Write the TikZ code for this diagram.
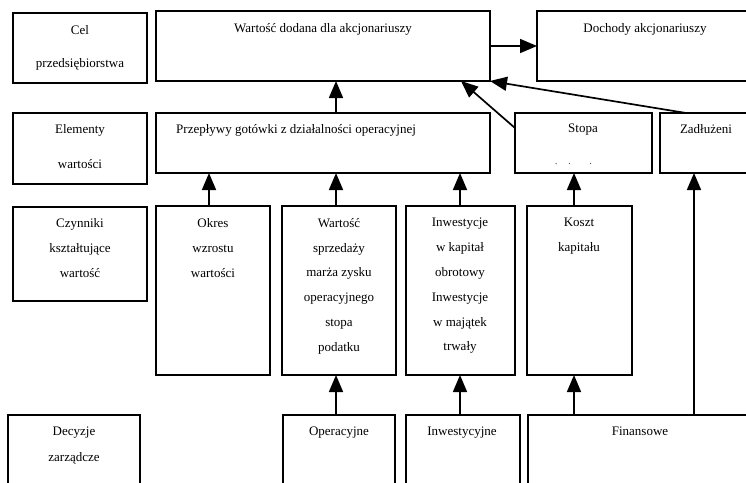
\documentclass[tikz,border=0pt]{standalone}
\usepackage{fontspec}
\setmainfont{Liberation Serif}
\usetikzlibrary{arrows.meta,calc}
\begin{document}
\begin{tikzpicture}[x=1pt,y=-1pt,
  box/.style={draw,line width=1.8pt,rectangle,anchor=north west,inner sep=0pt,outer sep=0pt},
  txt/.style={font=\fontsize{13}{25}\selectfont,align=center,inner sep=0pt,anchor=north},
  arr/.style={line width=1.7pt,-{Triangle[length=17pt,width=14pt]}}]
\useasboundingbox (0,0) rectangle (746,482);
\clip (0,0) rectangle (746,482);
% column coordinates
\coordinate (k1) at (209,0);
\coordinate (k2) at (336,0);
\coordinate (k3) at (460,0);
\coordinate (k4) at (574,0);
\coordinate (k5) at (694,0);
% row 1
\node[box,minimum width=134pt,minimum height=70pt] (cel) at (13,13) {};
\node[box,minimum width=334pt,minimum height=70pt] (wd) at (156,11) {};
\node[box,minimum width=263pt,minimum height=70pt] (doch) at (537,11) {};
\node[txt,font=\fontsize{13}{33}\selectfont] (celt) at (80,25) {Cel\\przedsiębiorstwa};
\node[txt] (wdt) at (323,23) {Wartość dodana dla akcjonariuszy};
\node[txt] (docht) at (645,23) {Dochody akcjonariuszy};
% row 2
\node[box,minimum width=134pt,minimum height=71pt] (el) at (13,113) {};
\node[box,minimum width=334pt,minimum height=60pt] (prz) at (156,113) {};
\node[box,minimum width=137pt,minimum height=60pt] (st) at (515,113) {};
\node[box,minimum width=140pt,minimum height=60pt] (zad) at (660,113) {};
\node[txt,font=\fontsize{13}{35}\selectfont] (elt) at (80,124) {Elementy\\wartości};
\node[txt,anchor=north west] (przt) at (176,124) {Przepływy gotówki z działalności operacyjnej};
\node[txt] (stt) at (583,124) {Stopa};
\node[font=\fontsize{9}{10}\selectfont,inner sep=0pt,anchor=base west] (dots) at (555,164) {.\hspace{11pt}.\hspace{19pt}.};
\node[txt] (zadt) at (706,124) {Zadłużeni};
% row 3
\node[box,minimum width=134pt,minimum height=94pt] (cz) at (13,207) {};
\node[box,minimum width=114pt,minimum height=169pt] (ok) at (156,206) {};
\node[box,minimum width=114pt,minimum height=169pt] (ws) at (282,206) {};
\node[box,minimum width=109pt,minimum height=169pt] (inw) at (406,206) {};
\node[box,minimum width=105pt,minimum height=169pt] (ko) at (527,206) {};
\node[txt] (czt) at (80,218) {Czynniki\\kształtujące\\wartość};
\node[txt] (okt) at (213,218) {Okres\\wzrostu\\wartości};
\node[txt,font=\fontsize{13}{24.8}\selectfont] (wst) at (339,218) {Wartość\\sprzedaży\\marża zysku\\operacyjnego\\stopa\\podatku};
\node[txt,font=\fontsize{13}{24.8}\selectfont] (inwt) at (460,218) {Inwestycje\\w kapitał\\obrotowy\\Inwestycje\\w majątek\\trwały};
\node[txt] (kot) at (579,218) {Koszt\\kapitału};
% row 4
\node[box,minimum width=132pt,minimum height=100pt] (dec) at (8,415) {};
\node[box,minimum width=112pt,minimum height=100pt] (op) at (283,415) {};
\node[box,minimum width=114pt,minimum height=100pt] (inwy) at (406,415) {};
\node[box,minimum width=272pt,minimum height=100pt] (fin) at (528,415) {};
\node[txt,font=\fontsize{13}{26}\selectfont] (dect) at (74,427) {Decyzje\\zarządcze};
\node[txt] (opt) at (339,427) {Operacyjne};
\node[txt] (inwyt) at (462,427) {Inwestycyjne};
\node[txt] (fint) at (640,427) {Finansowe};
% arrows
\draw[arr] (wd.east) -- (doch.west);
\draw[arr] (prz.north -| k2) -- (wd.south -| k2);
\draw[arr] ($(st.north west)+(0,15)$) -- ($(wd.south west)+(305,0)$);
\draw[arr] ($(zad.north west)+(26,0)$) -- (wd.south east);
\draw[arr] (ok.north -| k1) -- (prz.south -| k1);
\draw[arr] (ws.north -| k2) -- (prz.south -| k2);
\draw[arr] (inw.north -| k3) -- (prz.south -| k3);
\draw[arr] (ko.north -| k4) -- (st.south -| k4);
\draw[arr] (fin.north -| k5) -- (zad.south -| k5);
\draw[arr] (op.north -| k2) -- (ws.south -| k2);
\draw[arr] (inwy.north -| k3) -- (inw.south -| k3);
\draw[arr] (fin.north -| k4) -- (ko.south -| k4);
\end{tikzpicture}
\end{document}
